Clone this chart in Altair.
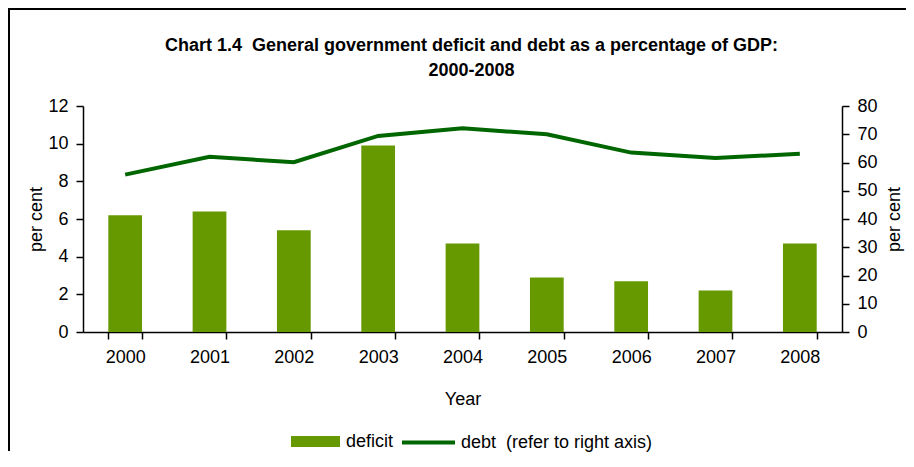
import altair as alt
import pandas as pd

years = ["2000", "2001", "2002", "2003", "2004", "2005", "2006", "2007", "2008"]
deficit = [6.2, 6.4, 5.4, 9.9, 4.7, 2.9, 2.7, 2.2, 4.7]
debt = [55.7, 62.0, 60.1, 69.4, 72.1, 70.0, 63.5, 61.6, 63.1]
left_ticks = [0, 2, 4, 6, 8, 10, 12]
right_ticks = [0, 10, 20, 30, 40, 50, 60, 70, 80]

df = pd.DataFrame({
    "Year": years,
    "deficit": deficit,
    "debt": debt,
    "s_def": ["deficit"] * len(years),
    "s_debt": ["debt\u00a0 (refer to right axis)"] * len(years),
})

FONT = "Liberation Sans"
BAR = "#669900"
LINE = "#006600"

x = alt.X(
    "Year:N",
    sort=years,
    scale=alt.Scale(paddingInner=0.6, paddingOuter=0.3),
    axis=alt.Axis(title="Year", labelAngle=0, tickBand="extent", tickSize=7,
                  labelPadding=9, titlePadding=24),
)

bars = alt.Chart(df).mark_bar(color=BAR).encode(
    x=x,
    y=alt.Y("deficit:Q", scale=alt.Scale(domain=[0, 12], nice=False),
            axis=alt.Axis(title="per cent", values=left_ticks, orient="left",
                          tickSize=7, labelPadding=8, titlePadding=2)),
    fill=alt.Fill("s_def:N", scale=alt.Scale(range=[BAR]),
                  legend=alt.Legend(orient="none", legendX=208, legendY=311, title=None,
                                    padding=0, symbolType="M-1,-0.22L1,-0.22L1,0.22L-1,0.22Z",
                                    symbolSize=2401, symbolStrokeWidth=0, labelOffset=6,
                                    labelLimit=400)),
)

line = alt.Chart(df).mark_line(color=LINE, strokeWidth=4).encode(
    x=x,
    y=alt.Y("debt:Q", scale=alt.Scale(domain=[0, 80], nice=False),
            axis=alt.Axis(title="per cent", values=right_ticks, orient="right",
                          tickSize=7, labelPadding=8, titlePadding=26, titleAngle=270)),
    stroke=alt.Stroke("s_debt:N", scale=alt.Scale(range=[LINE]),
                      legend=alt.Legend(orient="none", legendX=317, legendY=308, title=None,
                                        padding=0, symbolType="stroke", symbolSize=2809,
                                        symbolStrokeWidth=4, labelOffset=4, labelLimit=400)),
)

frame_df = pd.DataFrame({"k": [0]})
top_rule = alt.Chart(frame_df).mark_rule(color="black", strokeWidth=2).encode(
    x=alt.value(-76), x2=alt.value(830), y=alt.value(-97))
left_rule = alt.Chart(frame_df).mark_rule(color="black", strokeWidth=2).encode(
    x=alt.value(-74), y=alt.value(-98), y2=alt.value(345))

chart = alt.layer(bars, line, top_rule, left_rule).resolve_scale(
    y="independent", fill="independent", stroke="independent"
).properties(
    width=759,
    height=226,
    autosize=alt.AutoSizeParams(type="none"),
    padding={"left": 75, "top": 98, "right": 64, "bottom": 120},
    title=alt.Title(
        text=["Chart 1.4\u00a0 General government deficit and debt as a percentage of GDP:", "2000-2008"],
        font=FONT, fontSize=18, fontWeight="bold", color="black",
        anchor="middle", frame="group", dx=9, dy=93, offset=20, lineHeight=25,
    ),
).configure_axis(
    labelFont=FONT, labelFontSize=18, labelColor="black",
    titleFont=FONT, titleFontSize=18, titleFontWeight="normal", titleColor="black",
    domainColor="black", domainWidth=1.5, tickColor="black", tickWidth=1.5, grid=False,
).configure_legend(
    labelFont=FONT, labelFontSize=18, labelColor="black",
).configure_view(stroke=None)

chart.save("out.html", embed_options={"renderer": "svg", "actions": False})
